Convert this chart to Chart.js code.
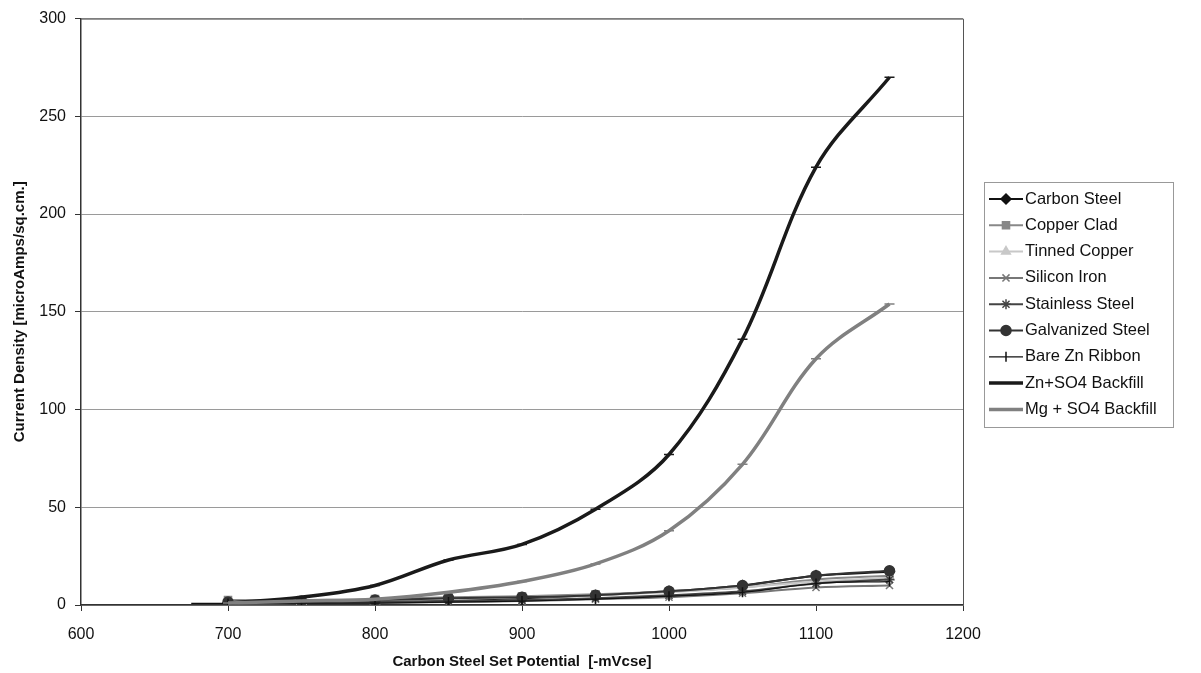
<!DOCTYPE html>
<html>
<head>
<meta charset="utf-8">
<script src="https://cdn.jsdelivr.net/npm/chart.js@4.4.0/dist/chart.umd.min.js"></script>
<style>
html,body{margin:0;padding:0;background:#fff;}
#wrap{width:1201px;height:673px;}
</style>
</head>
<body>
<div id="wrap"><canvas id="c" width="1201" height="673"></canvas></div>
<script>
const potentials = [700, 750, 800, 850, 900, 950, 1000, 1050, 1100, 1150];
const bareZnPotentials = [675, 700, 750, 800, 850, 900, 950, 1000, 1050, 1100, 1150];
const seriesNames = ["Carbon Steel","Copper Clad","Tinned Copper","Silicon Iron","Stainless Steel","Galvanized Steel","Bare Zn Ribbon","Zn+SO4 Backfill","Mg + SO4 Backfill"];
const carbonSteel     = [1, 1.5, 2, 2.5, 3.5, 5, 7, 10, 15, 17];
const copperClad      = [2.5, 2.5, 3, 4, 4.5, 5.5, 7, 9, 13, 15];
const tinnedCopper    = [1, 1.5, 2, 3, 4, 5, 6.5, 9, 12, 14];
const siliconIron     = [0.5, 1, 1, 1.5, 2, 3, 4, 6, 9, 10];
const stainlessSteel  = [0.5, 1, 1.5, 2, 2.5, 3.5, 5, 7, 11, 13];
const galvanizedSteel = [1.5, 2, 2.5, 3.5, 4, 5, 7, 10, 15, 17.5];
const bareZnRibbon    = [0.8, 0.8, 1, 1, 1.5, 2, 3, 4.5, 6.5, 11, 12];
const znSo4Backfill   = [1, 4, 10, 23, 31, 49, 77, 136, 224, 270];
const mgSo4Backfill   = [1, 2, 3, 6.5, 12, 21, 38, 72, 126, 154];
const xTicks = [600, 700, 800, 900, 1000, 1100, 1200];
const yTicks = [0, 50, 100, 150, 200, 250, 300];

const styles = [
  {c:'#111', w:2, ps:'rectRot', r:5},
  {c:'#888', w:2, ps:'rect', r:5},
  {c:'#c8c8c8', w:2, ps:'triangle', r:5},
  {c:'#777', w:2, ps:'crossRot', r:5},
  {c:'#444', w:2, ps:'star', r:5},
  {c:'#333', w:2, ps:'circle', r:5},
  {c:'#111', w:1.2, ps:'line', r:5, rot:90},
  {c:'#1a1a1a', w:3.5, ps:'line', r:5},
  {c:'#808080', w:3.5, ps:'line', r:5}
];
const values = [carbonSteel, copperClad, tinnedCopper, siliconIron, stainlessSteel, galvanizedSteel, bareZnRibbon, znSo4Backfill, mgSo4Backfill];
const xsFor = [potentials, potentials, potentials, potentials, potentials, potentials, bareZnPotentials, potentials, potentials];

const datasets = values.map((vals, i) => ({
  label: seriesNames[i],
  data: xsFor[i].map((x, j) => ({x: x, y: vals[j]})),
  showLine: true,
  borderColor: styles[i].c,
  backgroundColor: styles[i].c,
  borderWidth: styles[i].w,
  pointStyle: styles[i].ps,
  pointRadius: xsFor[i].map(x => (x % 50 === 0 ? styles[i].r : 0)),
  pointRotation: styles[i].rot || 0,
  pointBorderColor: styles[i].c,
  pointBackgroundColor: styles[i].c,
  pointBorderWidth: 1.5,
  tension: 0.35
})).reverse();

const FONT = "'Liberation Sans', Arial, sans-serif";

const frame = {
  id: 'frame',
  afterDraw(chart) {
    const ctx = chart.ctx, a = chart.chartArea;
    ctx.save();
    ctx.strokeStyle = '#555';
    ctx.lineWidth = 1;
    ctx.beginPath();
    ctx.moveTo(a.left, a.top + 0.5);
    ctx.lineTo(a.right + 0.5, a.top + 0.5);
    ctx.lineTo(a.right + 0.5, a.bottom);
    ctx.stroke();
    // legend
    const lx = 984, ly = 182, lw = 189, lh = 245;
    ctx.strokeStyle = '#333';
    ctx.setLineDash([1, 1]);
    ctx.strokeRect(lx + 0.5, ly + 0.5, lw, lh);
    ctx.setLineDash([]);
    ctx.font = '16.5px ' + FONT;
    ctx.textBaseline = 'middle';
    for (let i = 0; i < seriesNames.length; i++) {
      const y = ly + 17 + i * 26.3;
      const s = styles[i];
      ctx.strokeStyle = s.c;
      ctx.lineWidth = s.w;
      ctx.beginPath();
      ctx.moveTo(lx + 5, y);
      ctx.lineTo(lx + 39, y);
      ctx.stroke();
      ctx.fillStyle = s.c;
      ctx.strokeStyle = s.c;
      ctx.lineWidth = 1.5;
      Chart.helpers.drawPoint(ctx, {pointStyle: s.ps, radius: s.r, rotation: s.rot || 0, borderWidth: 1.5}, lx + 22, y);
      ctx.fillStyle = '#111';
      ctx.fillText(seriesNames[i], lx + 41, y);
    }
    ctx.restore();
  }
};

new Chart(document.getElementById('c'), {
  type: 'scatter',
  data: {datasets},
  options: {
    responsive: false,
    animation: false,
    layout: {padding: {left: 6, right: 238, top: 17, bottom: 0}},
    plugins: {legend: {display: false}, tooltip: {enabled: false}},
    scales: {
      x: {
        type: 'linear', min: 600, max: 1200,
        afterBuildTicks: (s) => { s.ticks = xTicks.map(v => ({value: v})); },
        afterFit: (s) => { s.height = 68; },
        ticks: {font: {family: FONT, size: 16}, color: '#111', padding: 14, callback: (v) => String(v)},
        grid: {display: true, drawOnChartArea: false, drawTicks: true, tickLength: 6, color: '#333'},
        border: {color: '#333', width: 1.5},
        title: {display: true, text: 'Carbon Steel Set Potential  [-mVcse]', font: {family: FONT, size: 15, weight: 'bold'}, color: '#111', padding: {top: 4, bottom: 2}}
      },
      y: {
        type: 'linear', min: 0, max: 300,
        afterBuildTicks: (s) => { s.ticks = yTicks.map(v => ({value: v})); },
        afterFit: (s) => { s.width = 75; },
        ticks: {font: {family: FONT, size: 16}, color: '#111', padding: 9, callback: (v) => String(v)},
        grid: {color: '#9a9a9a', lineWidth: 1, tickLength: 6, tickColor: '#333'},
        border: {color: '#333', width: 1.5},
        title: {display: true, text: 'Current Density [microAmps/sq.cm.]', font: {family: FONT, size: 15, weight: 'bold'}, color: '#111', padding: {top: 5, bottom: 2}}
      }
    }
  },
  plugins: [frame]
});
</script>
</body>
</html>
